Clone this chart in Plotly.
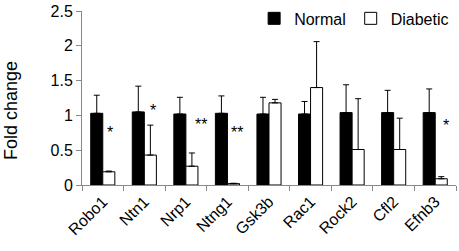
import plotly.graph_objects as go

genes = ["Robo1", "Ntn1", "Nrp1", "Ntng1", "Gsk3b", "Rac1", "Rock2", "Cfl2", "Efnb3"]
normal = [1.03, 1.05, 1.02, 1.03, 1.02, 1.02, 1.04, 1.04, 1.04]
normal_err = [0.26, 0.37, 0.24, 0.25, 0.24, 0.18, 0.40, 0.32, 0.34]
diabetic = [0.19, 0.43, 0.27, 0.02, 1.18, 1.40, 0.51, 0.51, 0.09]
diabetic_err = [0.01, 0.43, 0.19, 0.005, 0.05, 0.66, 0.73, 0.45, 0.03]

sig_genes = ["Robo1", "Ntn1", "Nrp1", "Ntng1", "Efnb3"]
sig_text = ["*", "*", "**", "**", "*"]
sig_y = [0.755, 1.07, 0.865, 0.755, 0.85]
sig_shift = [7, 9, 15, 10, 11]

y_title = "Fold change"

FONT = "Liberation Sans, Arial, sans-serif"

fig = go.Figure()
fig.add_trace(go.Bar(
    x=genes, y=normal, name="Normal",
    marker=dict(color="black", line=dict(color="black", width=1)),
    error_y=dict(type="data", array=normal_err, arrayminus=[0] * len(genes),
                 symmetric=False, color="black", thickness=1, width=3),
))
fig.add_trace(go.Bar(
    x=genes, y=diabetic, name="Diabetic",
    marker=dict(color="white", line=dict(color="black", width=1)),
    error_y=dict(type="data", array=diabetic_err, arrayminus=[0] * len(genes),
                 symmetric=False, color="black", thickness=1, width=3),
))

for g, t, yv, sh in zip(sig_genes, sig_text, sig_y, sig_shift):
    fig.add_annotation(x=g, y=yv, text=t, showarrow=False, xshift=sh,
                       font=dict(family=FONT, size=16, color="black"))

# y-axis title placed as rotated text (slightly below plot centre, as in the original)
fig.add_annotation(xref="paper", yref="paper", x=-0.19, y=0.43, text=y_title,
                   textangle=-90, showarrow=False, xanchor="center", yanchor="middle",
                   font=dict(family=FONT, size=18, color="black"))

fig.update_layout(
    width=459, height=251,
    margin=dict(l=82, r=3, t=11, b=66, autoexpand=False),
    paper_bgcolor="white", plot_bgcolor="white",
    barmode="group", bargap=0.42, bargroupgap=0,
    font=dict(family=FONT, size=16, color="black"),
    showlegend=True,
    legend=dict(orientation="h", x=0.995, xanchor="right", y=1.055, yanchor="top",
                font=dict(family=FONT, size=16, color="black"),
                itemwidth=30, tracegroupgap=0, bgcolor="rgba(0,0,0,0)"),
    xaxis=dict(
        automargin=False,
        showline=True, linecolor="#888888", linewidth=1,
        ticks="outside", ticklen=5, tickcolor="#888888", tickson="boundaries",
        tickangle=-45, tickfont=dict(family=FONT, size=16, color="black"),
        showgrid=False, zeroline=False,
    ),
    yaxis=dict(
        automargin=False,
        range=[0, 2.5], tickvals=[0, 0.5, 1, 1.5, 2, 2.5],
        ticktext=["0", "0.5", "1", "1.5", "2", "2.5"],
        showline=True, linecolor="#888888", linewidth=1,
        ticks="outside", ticklen=5, tickcolor="#888888",
        tickfont=dict(family=FONT, size=16, color="black"),
        showgrid=False, zeroline=False,
    ),
)

fig.write_html("out.html", config={"displayModeBar": False},
               post_script="document.body.style.margin='0';")
